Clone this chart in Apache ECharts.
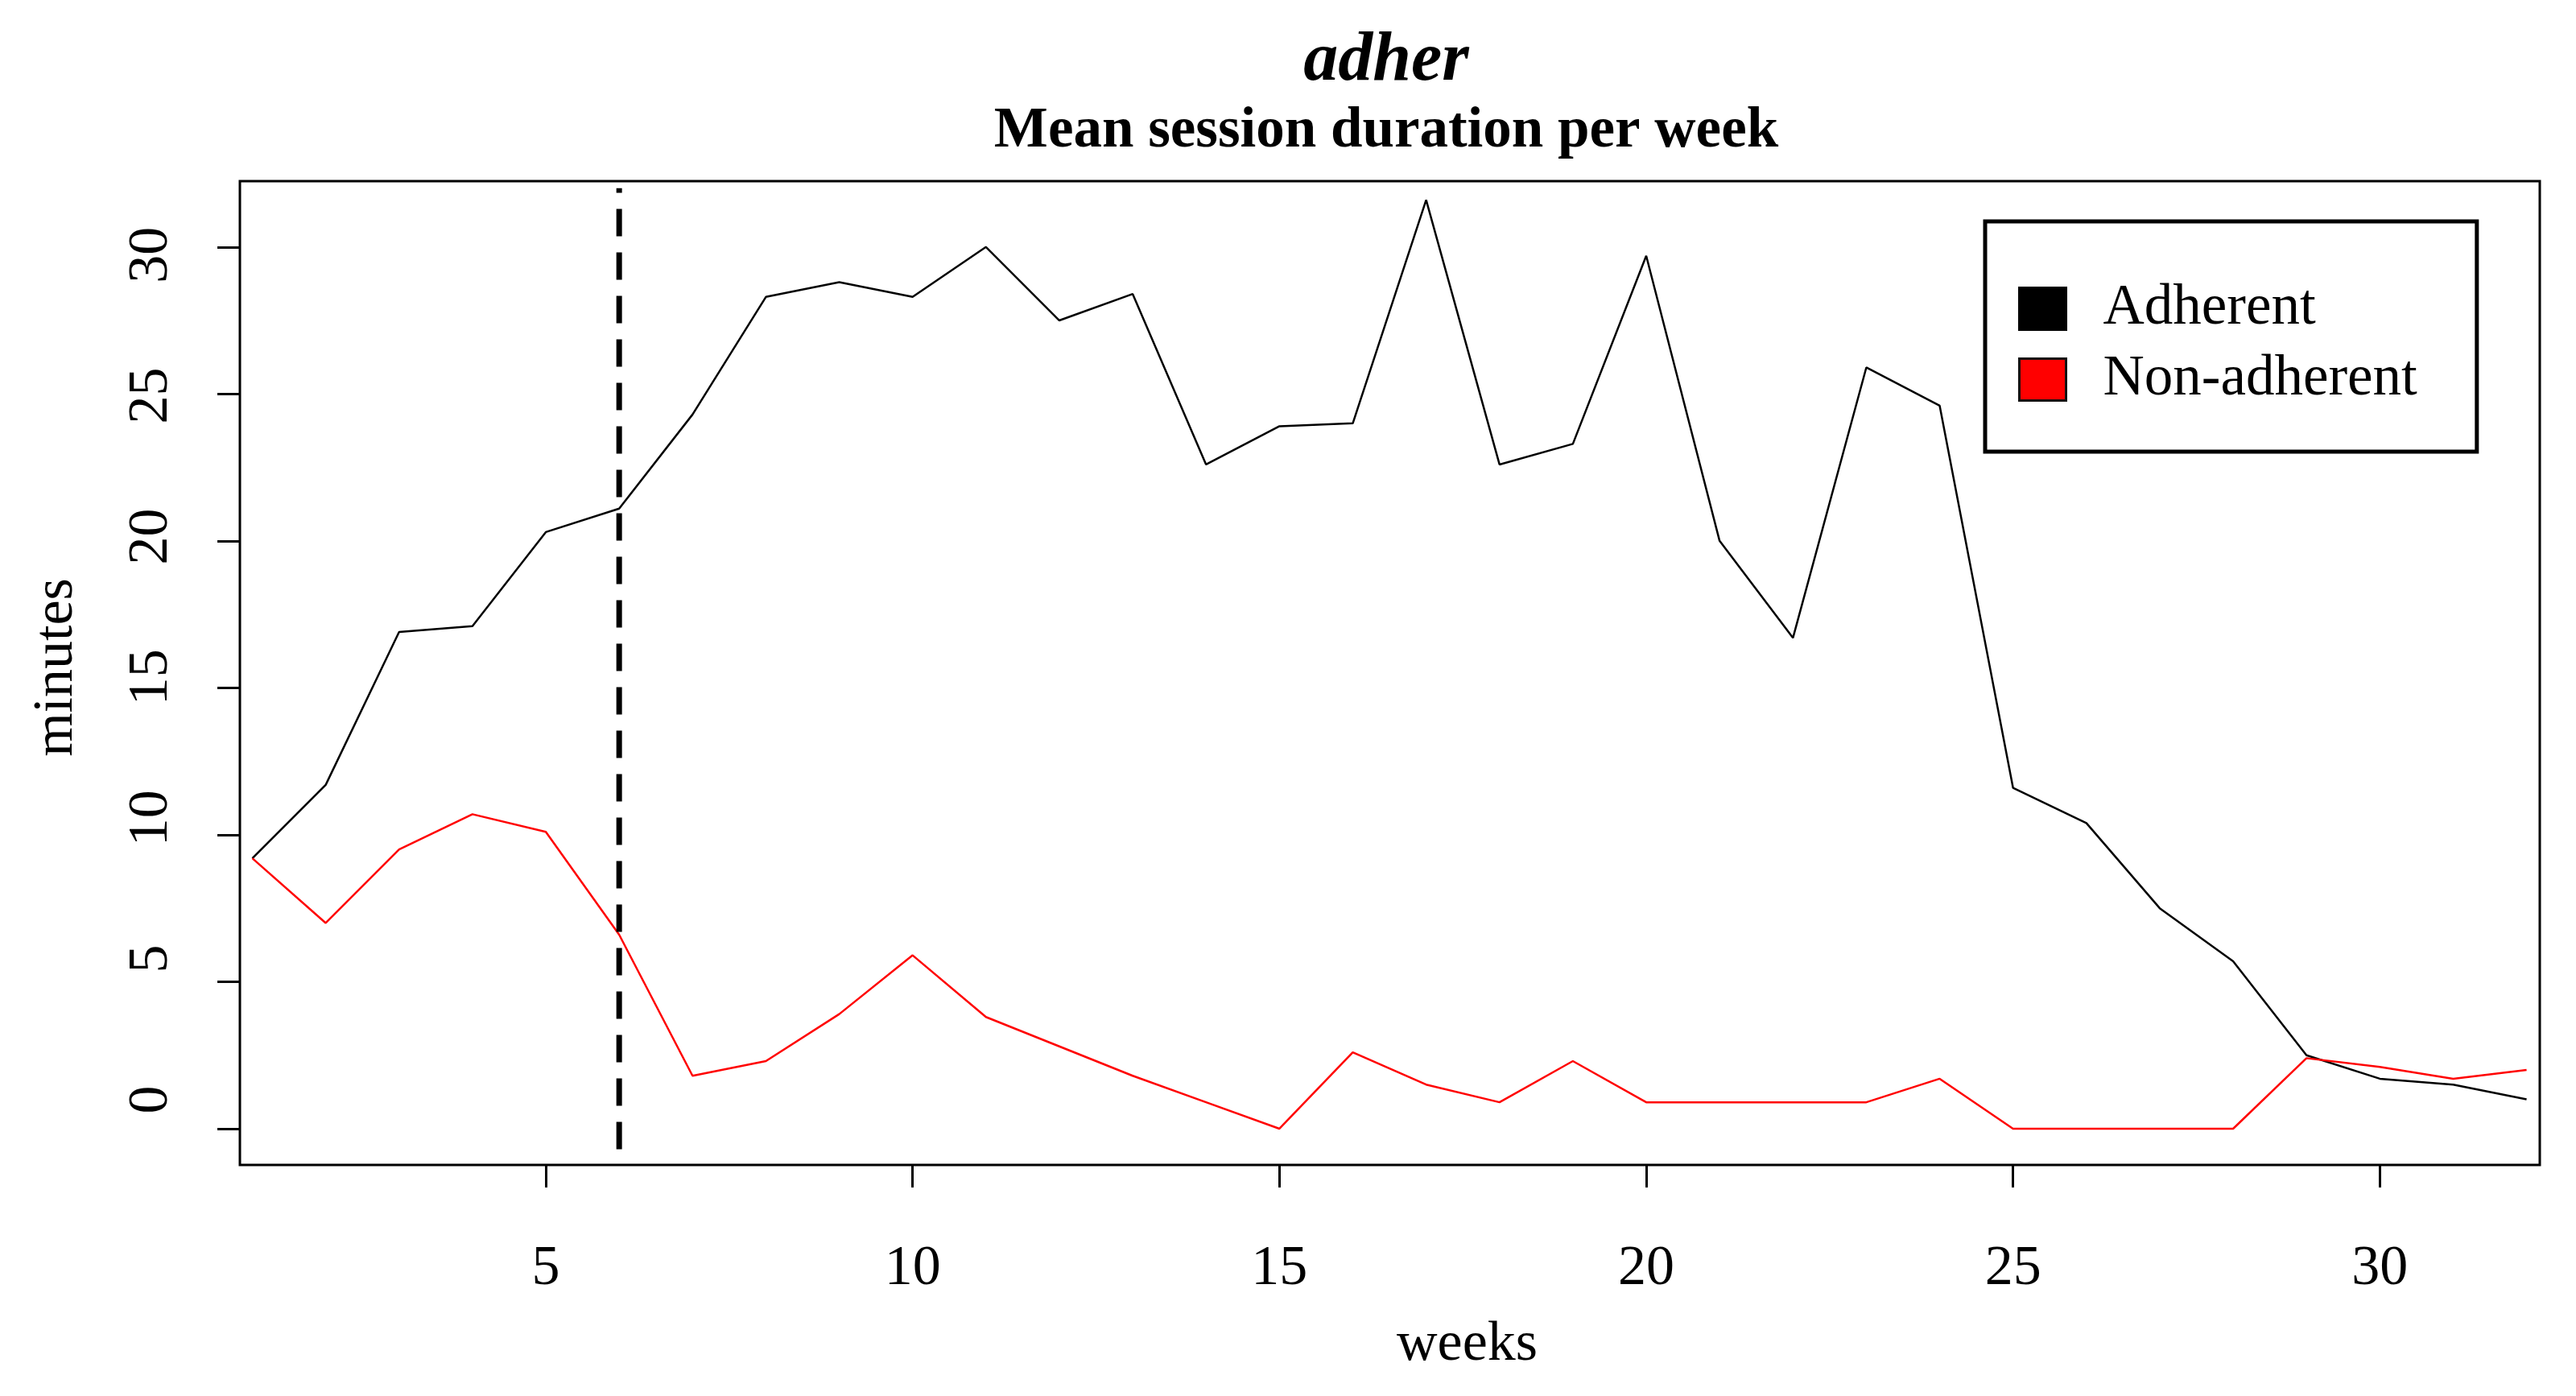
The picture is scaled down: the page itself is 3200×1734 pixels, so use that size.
<!DOCTYPE html>
<html><head><meta charset="utf-8">
<script src="https://cdn.jsdelivr.net/npm/echarts@6/dist/echarts.min.js"></script>
<style>html,body{margin:0;padding:0;background:#fff}#c{width:3200px;height:1734px}</style>
</head><body><div id="c"></div>
<script>
const weeks = [1,2,3,4,5,6,7,8,9,10,11,12,13,14,15,16,17,18,19,20,21,22,23,24,25,26,27,28,29,30,31,32];
const adherent = [9.2,11.7,16.9,17.1,20.3,21.1,24.3,28.3,28.8,28.3,30.0,27.5,28.4,22.6,23.9,24.0,31.6,22.6,23.3,29.7,20.0,16.7,25.9,24.6,11.6,10.4,7.5,5.7,2.5,1.7,1.5,1.0];
const nonAdherent = [9.2,7.0,9.5,10.7,10.1,6.6,1.8,2.3,3.9,5.9,3.8,2.8,1.8,0.9,0.0,2.6,1.5,0.9,2.3,0.9,0.9,0.9,0.9,1.7,0.0,0.0,0.0,0.0,2.4,2.1,1.7,2.0];
const xTicks = [5,10,15,20,25,30];
const yTicks = [0,5,10,15,20,25,30];
const cutoffWeek = 6;
const cutoffSpan = [-0.7, 32.0];
const seriesNames = ['Adherent','Non-adherent'];

const FONT = 'Liberation Serif';
const chart = echarts.init(document.getElementById('c'), null, {renderer:'canvas'});
const pairs = (vals) => weeks.map((w,i) => [w, vals[i]]);

chart.setOption({
  animation: false,
  backgroundColor: '#fff',
  title: [
    {text: 'adher', left: 1722, top: 34, textAlign: 'center', padding: 0,
     textStyle: {fontFamily: FONT, fontSize: 86, fontStyle: 'italic', fontWeight: 'bold', color: '#000'}},
    {text: 'Mean session duration per week', left: 1722, top: 128, textAlign: 'center', padding: 0,
     textStyle: {fontFamily: FONT, fontSize: 71, fontWeight: 'bold', color: '#000'}}
  ],
  legend: {
    orient: 'vertical', left: 2466, top: 275,
    padding: [73, 74, 54, 41],
    borderColor: '#000', borderWidth: 5, backgroundColor: '#fff',
    itemWidth: 58, itemHeight: 52, itemGap: 17,
    selectedMode: false,
    textStyle: {fontFamily: FONT, fontSize: 71, color: '#000', padding: [0,0,0,41]},
    data: [
      {name: seriesNames[0], icon: 'rect', itemStyle: {color: '#000', borderColor: '#000', borderWidth: 3}},
      {name: seriesNames[1], icon: 'rect', itemStyle: {color: '#ff0000', borderColor: '#111', borderWidth: 3}}
    ]
  },
  grid: {left: 298, top: 225, right: 45, bottom: 287, show: true, borderColor: '#000', borderWidth: 3,
         backgroundColor: 'transparent', containLabel: false, outerBoundsMode: 'none'},
  xAxis: {
    type: 'value', min: 0.83, max: 32.18,
    axisLine: {show: false, onZero: false},
    splitLine: {show: false},
    axisTick: {show: true, length: 28, customValues: xTicks, lineStyle: {color: '#000', width: 3}},
    axisLabel: {customValues: xTicks, fontFamily: FONT, fontSize: 70, color: '#000', margin: 95},
    name: 'weeks', nameLocation: 'middle', nameGap: 189,
    nameTextStyle: {fontFamily: FONT, fontSize: 70, color: '#000', padding: [0,0,0,192]}
  },
  yAxis: [{
    type: 'value', min: -1.233, max: 32.24, position: 'left',
    axisLine: {show: false, onZero: false},
    splitLine: {show: false},
    axisTick: {show: true, length: 28, customValues: yTicks, lineStyle: {color: '#000', width: 3}},
    axisLabel: {show: false},
    name: 'minutes', nameLocation: 'middle', nameGap: 192, nameRotate: 90,
    nameTextStyle: {fontFamily: FONT, fontSize: 70, color: '#000', padding: [0,0,0,14]}
  }, {
    type: 'value', min: -2.316, max: 32.62, position: 'left', offset: 0,
    axisLine: {show: false, onZero: false},
    splitLine: {show: false},
    axisTick: {show: false},
    axisLabel: {customValues: yTicks, fontFamily: FONT, fontSize: 70, color: '#000', margin: 74, rotate: 90}
  }],
  series: [
    {name: seriesNames[0], type: 'line', data: pairs(adherent), showSymbol: false, symbol: 'none', yAxisIndex: 0,
     lineStyle: {color: '#000', width: 2.5}, itemStyle: {color: '#000'}, silent: true, z: 2},
    {name: seriesNames[1], type: 'line', data: pairs(nonAdherent), showSymbol: false, symbol: 'none', yAxisIndex: 0,
     lineStyle: {color: '#ff0000', width: 2.5}, itemStyle: {color: '#ff0000'}, silent: true, z: 3},
    {name: 'cutoff', type: 'line', data: cutoffSpan.map(v => [cutoffWeek, v]), showSymbol: false, symbol: 'none', yAxisIndex: 0,
     lineStyle: {color: '#000', width: 7, type: [34, 20]}, silent: true, z: 4}
  ]
});
</script></body></html>
